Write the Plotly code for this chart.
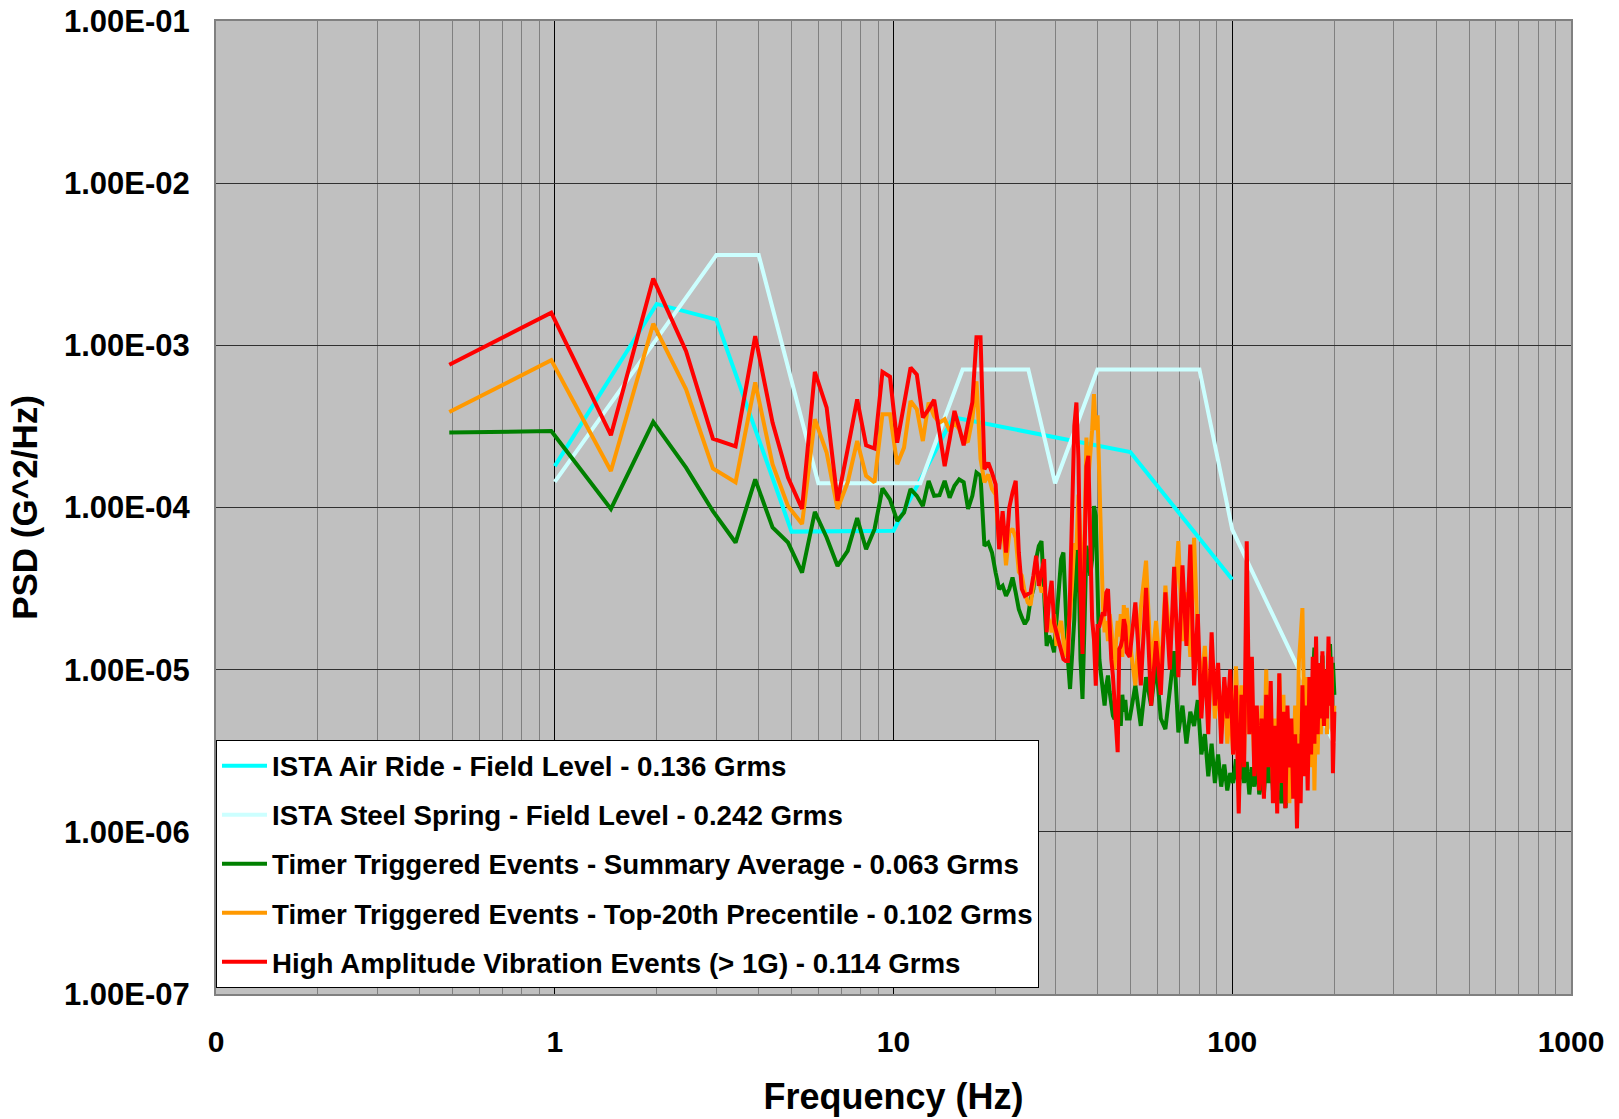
import plotly.graph_objects as go

# ---------------- data ----------------
# FFT bin resolution of the measured spectra (Hz)
DF = 0.48828125
bins_lo = list(range(1, 101))          # every bin up to ~49 Hz
bins_hi = list(range(102, 411, 4))     # every 4th bin from ~50 Hz to 200 Hz

air_f = [1, 2, 3, 5, 10, 15, 50, 100]
air_v = [1.8e-4, 1.8e-3, 1.44e-3, 7.1e-5, 7.2e-5, 3.6e-4, 2.2e-4, 3.6e-5]

steel_f = [1, 3, 4, 6, 12, 16, 25, 30, 40, 80, 100, 200]
steel_v = [1.44e-4, 3.6e-3, 3.6e-3, 1.41e-4, 1.41e-4, 7.1e-4, 7.1e-4, 1.41e-4,
           7.1e-4, 7.1e-4, 7.3e-5, 3.5e-6]

green_lo = [2.9e-4, 2.96e-4, 9.8e-5, 3.37e-4, 1.76e-4, 9.5e-5, 6.08e-5, 1.49e-4, 7.53e-5, 6.08e-5,
            3.97e-5, 9.4e-5, 6.53e-5, 4.36e-5, 5.4e-5, 8.6e-5, 5.53e-5, 7.35e-5, 1.31e-4, 1.12e-4,
            8.27e-5, 9.3e-5, 1.3e-4, 1.18e-4, 1.02e-4, 1.46e-4, 1.18e-4, 1.19e-4, 1.46e-4, 1.15e-4,
            1.36e-4, 1.49e-4, 1.43e-4, 9.8e-5, 1.18e-4, 1.64e-4, 1.57e-4, 5.8e-5, 6.08e-5, 5.28e-5,
            3.97e-5, 3.14e-5, 3.29e-5, 2.85e-5, 3.14e-5, 3.7e-5, 2.99e-5, 2.36e-5, 2.1e-5, 1.91e-5,
            2.05e-5, 2.72e-5, 3.14e-5, 4.8e-5, 5.8e-5, 6.2e-5, 2.99e-5, 1.4e-5, 1.62e-5, 1.47e-5,
            1.28e-5, 2.05e-5, 3.29e-5, 4.8e-5, 5.28e-5, 2.36e-5, 1.16e-5, 7.6e-6, 1.28e-5, 2.05e-5,
            5.8e-5, 4.8e-5, 1.16e-5, 6.6e-6, 1.86e-5, 5.8e-5, 4.8e-5, 3.79e-5, 4.8e-5, 1.02e-4,
            8.9e-5, 3.97e-5, 1.16e-5, 9.2e-6, 7.3e-6, 6.0e-6, 8.0e-6, 9.2e-6, 7.3e-6, 5.74e-6,
            5.2e-6, 4.96e-6, 5.5e-6, 4.0e-6, 6.0e-6, 4.5e-6, 7.0e-6, 5.5e-6, 6.5e-6, 5.0e-6]
green_hi = [5e-6, 8e-6, 4.5e-6, 9e-6, 6e-6, 1.1e-5, 5e-6, 4.3e-6, 8e-6, 1.3e-5,
            4.1e-6, 6e-6, 3.5e-6, 5.5e-6, 4.5e-6, 6.5e-6, 3e-6, 4e-6, 2.2e-6, 3.5e-6,
            2.0e-6, 3e-6, 1.9e-6, 2.6e-6, 1.8e-6, 2.3e-6, 2.0e-6, 2.8e-6, 1.8e-6, 3.0e-6,
            2.0e-6, 2.7e-6, 1.7e-6, 2.5e-6, 1.9e-6, 3e-6, 1.7e-6, 2.4e-6, 1.7e-6, 2.8e-6,
            2.0e-6, 3.2e-6, 1.8e-6, 2.6e-6, 1.6e-6, 2.2e-6, 1.5e-6, 2.5e-6, 1.4e-6, 2.0e-6,
            1.6e-6, 2.8e-6, 2.0e-6, 3.5e-6, 2.5e-6, 4e-6, 3e-6, 5e-6, 3.5e-6, 6e-6,
            4e-6, 8e-6, 5e-6, 1.0e-5, 1.37e-5, 7e-6, 1.1e-5, 6e-6, 9e-6, 1.22e-5,
            7e-6, 1.0e-5, 6e-6, 1.2e-5, 1.44e-5, 8e-6, 1.1e-5, 7e-6]

orange_lo = [3.88e-4, 8.1e-4, 1.68e-4, 1.36e-3, 5.36e-4, 1.74e-4, 1.43e-4, 5.9e-4, 1.85e-4, 1.02e-4,
             7.9e-5, 3.5e-4, 2.18e-4, 9.8e-5, 1.43e-4, 2.57e-4, 1.57e-4, 1.43e-4, 3.76e-4, 3.76e-4,
             1.85e-4, 2.34e-4, 4.54e-4, 4.03e-4, 2.57e-4, 4.44e-4, 3.66e-4, 3.34e-4, 3.5e-4, 2.96e-4,
             3.34e-4, 3.04e-4, 2.51e-4, 2.57e-4, 3.5e-4, 6.0e-4, 2.0e-4, 1.43e-4, 1.6e-4, 1.3e-4,
             1.2e-4, 6.0e-5, 8.0e-5, 4.4e-5, 7.0e-5, 7.4e-5, 6.5e-5, 4.0e-5, 3.8e-5, 3.0e-5,
             2.6e-5, 2.5e-5, 3.4e-5, 4.5e-5, 3.6e-5, 3.0e-5, 3.2e-5, 2.2e-5, 2.0e-5, 1.7e-5,
             2.2e-5, 1.4e-5, 1.8e-5, 2.0e-5, 1.5e-5, 1.2e-5, 1.6e-5, 2.2e-5, 3.5e-5, 6.0e-5,
             5.5e-5, 1.2e-4, 6.0e-5, 2.0e-5, 6.0e-5, 2.7e-4, 1.5e-4, 2.0e-4, 3.0e-4, 5.0e-4,
             3.0e-4, 3.7e-4, 1.6e-4, 5.0e-5, 2.5e-5, 1.7e-5, 2.0e-5, 1.5e-5, 2.2e-5, 1.8e-5,
             1.3e-5, 1.0e-5, 1.5e-5, 2.0e-5, 1.6e-5, 2.2e-5, 1.2e-5, 2.5e-5, 1.8e-5, 2.4e-5]
orange_hi = [1.5e-5, 8e-6, 2.4e-5, 4.7e-5, 1.0e-5, 2.0e-5, 9e-6, 3.3e-5, 1.5e-5, 2.5e-5,
             6.2e-5, 1.5e-5, 3.0e-5, 1.2e-5, 6.5e-5, 1.5e-5, 8e-6, 1.4e-5, 6e-6, 1.2e-5,
             5e-6, 9e-6, 4e-6, 8e-6, 3.5e-6, 6e-6, 3e-6, 1.05e-5, 4e-6, 8e-6,
             3e-6, 1.3e-5, 4e-6, 7e-6, 2.5e-6, 5e-6, 2e-6, 6e-6, 2.5e-6, 1.0e-5,
             3e-6, 6e-6, 2e-6, 5e-6, 1.8e-6, 9.4e-6, 2.5e-6, 7e-6, 2e-6, 5e-6,
             1.5e-6, 4e-6, 2e-6, 6e-6, 1.8e-6, 1.1e-5, 1.6e-5, 2.4e-5, 5e-6, 9e-6,
             3e-6, 7e-6, 2.5e-6, 8e-6, 1.8e-6, 6e-6, 3e-6, 9e-6, 4e-6, 1.1e-5,
             5e-6, 9e-6, 4e-6, 1.3e-5, 6e-6, 1.0e-5, 4e-6, 6e-6]

red_lo = [7.6e-4, 1.59e-3, 2.79e-4, 2.58e-3, 9.2e-4, 2.66e-4, 2.38e-4, 1.14e-3, 3.34e-4, 1.53e-4,
          9.8e-5, 6.86e-4, 4.13e-4, 1.1e-4, 2.29e-4, 4.65e-4, 2.42e-4, 2.31e-4, 6.86e-4, 6.4e-4,
          2.51e-4, 4.34e-4, 7.3e-4, 6.6e-4, 3.59e-4, 4.03e-4, 4.61e-4, 2.9e-4, 1.8e-4, 2.64e-4,
          3.94e-4, 3.11e-4, 2.42e-4, 3.34e-4, 4.44e-4, 1.12e-3, 1.12e-3, 1.72e-4, 1.89e-4, 1.64e-4,
          1.39e-4, 5.53e-5, 9.5e-5, 5.28e-5, 1.0e-4, 1.24e-4, 1.46e-4, 5.28e-5, 3.14e-5, 2.85e-5,
          2.92e-5, 2.99e-5, 3.79e-5, 5.04e-5, 3.29e-5, 3.97e-5, 4.8e-5, 1.7e-5, 2.72e-5, 3.53e-5,
          1.95e-5, 1.7e-5, 1.51e-5, 1.34e-5, 1.16e-5, 1.13e-5, 1.13e-5, 2.99e-5, 8.5e-5, 3.18e-4,
          4.44e-4, 1.99e-4, 2.99e-5, 1.25e-5, 4.8e-5, 1.8e-4, 2.08e-4, 5.8e-5, 2.05e-5, 1.54e-5,
          7.96e-6, 1.86e-5, 1.86e-5, 2.05e-5, 2.25e-5, 2.15e-5, 2.99e-5, 3.14e-5, 1.86e-5, 1.16e-5,
          9.2e-6, 6.0e-6, 4.96e-6, 3.1e-6, 1.34e-5, 1.4e-5, 1.54e-5, 2.05e-5, 1.86e-5, 1.28e-5]
red_hi = [1.2e-5, 2.6e-5, 8e-6, 3.2e-5, 6e-6, 1.5e-5, 7e-6, 3.0e-5, 1.0e-5, 4.3e-5,
          9e-6, 4.4e-5, 1.4e-5, 5.9e-5, 8e-6, 2.2e-5, 5e-6, 1.2e-5, 4e-6, 1.7e-5,
          6e-6, 1.1e-5, 3.5e-6, 9e-6, 5e-6, 1.0e-5, 3e-6, 8e-6, 1.3e-6, 7e-6,
          2.5e-6, 6.2e-5, 4e-6, 1.2e-5, 2.2e-6, 6e-6, 1.8e-6, 5e-6, 1.6e-6, 7e-6,
          2.5e-6, 8.5e-6, 1.5e-6, 4.5e-6, 1.3e-6, 9.5e-6, 2.0e-6, 5.5e-6, 1.4e-6, 6e-6,
          2.5e-6, 5e-6, 1.6e-6, 4e-6, 1.05e-6, 3.5e-6, 1.5e-6, 8e-6, 2.2e-6, 6e-6,
          1.8e-6, 9e-6, 3e-6, 1.2e-5, 3.5e-6, 1.6e-5, 4e-6, 1.1e-5, 5e-6, 1.3e-5,
          4.5e-6, 1.0e-5, 5e-6, 1.6e-5, 6e-6, 1.2e-5, 2.3e-6, 5.5e-6]

x_ticks = [0.1, 1, 10, 100, 1000]
x_ticktext = ["0", "1", "10", "100", "1000"]
y_ticks = [1e-7, 1e-6, 1e-5, 1e-4, 1e-3, 1e-2, 1e-1]
y_ticktext = ["1.00E-07", "1.00E-06", "1.00E-05", "1.00E-04", "1.00E-03", "1.00E-02", "1.00E-01"]

names = ["ISTA Air Ride - Field Level - 0.136 Grms",
         "ISTA Steel Spring - Field Level - 0.242 Grms",
         "Timer Triggered Events - Summary Average - 0.063 Grms",
         "Timer Triggered Events - Top-20th Precentile - 0.102 Grms",
         "High Amplitude Vibration Events (> 1G) - 0.114 Grms"]
colors = ["#00FFFF", "#CCFFFF", "#008000", "#FF9900", "#FF0000"]

# ---------------- figure ----------------
meas_f = [k * DF for k in bins_lo + bins_hi]
series = [
    (air_f, air_v),
    (steel_f, steel_v),
    (meas_f, green_lo + green_hi),
    (meas_f, orange_lo + orange_hi),
    (meas_f, red_lo + red_hi),
]

fig = go.Figure()
for (xf, yv), name, col in zip(series, names, colors):
    fig.add_trace(go.Scatter(x=xf, y=yv, mode="lines", name=name, legendgroup=name,
                             line=dict(color=col, width=4)))

FONT = "Liberation Sans, Arial, sans-serif"
fig.update_layout(
    width=1619, height=1119,
    margin=dict(l=216, r=48, t=21, b=125, pad=0, autoexpand=False),
    paper_bgcolor="white", plot_bgcolor="#C0C0C0",
    font=dict(family=FONT, color="black"),
    showlegend=True,
    legend=dict(x=0.0, y=0.006, xanchor="left", yanchor="bottom",
                bgcolor="white", bordercolor="black", borderwidth=1,
                font=dict(family=FONT, size=27.7, color="black", weight="bold"),
                tracegroupgap=10, itemwidth=45, traceorder="grouped"),
    xaxis=dict(type="log", range=[-1, 3], tickvals=x_ticks, ticktext=x_ticktext,
               tickfont=dict(family=FONT, size=30, weight="bold"),
               ticks="", ticklabelstandoff=20,
               showgrid=True, gridcolor="#000000", gridwidth=1,
               minor=dict(dtick="D1", showgrid=True, gridcolor="#808080", gridwidth=1, ticks=""),
               showline=True, linecolor="#808080", linewidth=2, mirror=True, zeroline=False,
               title=dict(text="Frequency (Hz)", standoff=27,
                          font=dict(family=FONT, size=36, weight="bold"))),
    yaxis=dict(type="log", range=[-7, -1], tickvals=y_ticks, ticktext=y_ticktext,
               tickfont=dict(family=FONT, size=31, weight="bold"),
               ticks="", ticklabelstandoff=18,
               showgrid=True, gridcolor="#303030", gridwidth=1,
               showline=True, linecolor="#808080", linewidth=2, mirror=True, zeroline=False,
               title=dict(text="PSD (G^2/Hz)", standoff=16,
                          font=dict(family=FONT, size=35, weight="bold"))),
)

fig.write_html("out.html")
